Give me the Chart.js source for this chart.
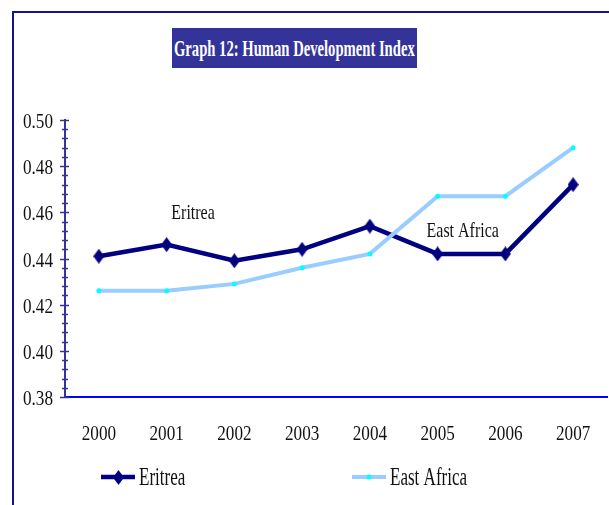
<!DOCTYPE html>
<html>
<head>
<meta charset="utf-8">
<script src="https://cdn.jsdelivr.net/npm/chart.js@4/dist/chart.umd.min.js"></script>
<style>
  html, body { margin: 0; padding: 0; background: #fff; }
  #wrap { position: relative; width: 609px; height: 505px; overflow: hidden; }
  #frame {
    position: absolute; left: 12px; top: 11px; right: -10px; bottom: -10px;
    border-left: 2px solid #14148c; border-top: 2px solid #14148c;
  }
  #title {
    position: absolute; left: 172px; top: 28px; width: 245px; height: 40px;
    background: #333399; display: flex; justify-content: center; align-items: center;
    overflow: visible;
  }
  #title span {
    color: #fff; font: bold 24px "Liberation Serif", serif; white-space: nowrap;
    transform: scaleX(0.61); display: inline-block;
  }
  canvas { position: absolute; left: 0; top: 0; }
</style>
</head>
<body>
<div id="wrap">
  <div id="frame"></div>
  <div id="title"><span>Graph 12: Human Development Index</span></div>
  <canvas id="hdi" width="609" height="505"></canvas>
</div>
<script>
(function () {
  'use strict';

  var years = ['2000', '2001', '2002', '2003', '2004', '2005', '2006', '2007'];
  var eritrea = [0.441, 0.446, 0.439, 0.444, 0.454, 0.442, 0.442, 0.472];
  var eastAfrica = [0.426, 0.426, 0.429, 0.436, 0.442, 0.467, 0.467, 0.488];

  // in-chart labels, anchored in data space (category index, value)
  var noteText = ['Eritrea', 'East Africa'];
  var noteAt = [[1.39, 0.457], [5.37, 0.4495]];

  var SERIF = '"Liberation Serif", "Times New Roman", serif';

  function diamond(w, h, color) {
    var c = document.createElement('canvas');
    c.width = w;
    c.height = h;
    var g = c.getContext('2d');
    g.fillStyle = color;
    g.beginPath();
    g.moveTo(w / 2, 0);
    g.lineTo(w, h / 2);
    g.lineTo(w / 2, h);
    g.lineTo(0, h / 2);
    g.closePath();
    g.fill();
    return c;
  }

  function squeezed(ctx, text, x, y, size, sx, align) {
    ctx.save();
    ctx.translate(x, y);
    ctx.scale(sx, 1);
    ctx.font = size + 'px ' + SERIF;
    ctx.textAlign = align;
    ctx.textBaseline = 'alphabetic';
    ctx.fillText(text, 0, 0);
    ctx.restore();
  }

  var marker = diamond(11, 15, '#000080');

  var axisDecor = {
    id: 'axisDecor',
    afterDraw: function (chart) {
      var ctx = chart.ctx;
      var xs = chart.scales.x;
      var ys = chart.scales.y;
      var axisX = chart.chartArea.left;

      // y ticks crossing the axis, labels every 0.02
      ctx.save();
      ctx.strokeStyle = '#333399';
      ctx.lineWidth = 1.5;
      ctx.fillStyle = '#111';
      ys.ticks.forEach(function (t) {
        var py = Math.round(ys.getPixelForValue(t.value)) + 0.5;
        var major = Math.abs(t.value * 50 - Math.round(t.value * 50)) < 1e-6;
        ctx.beginPath();
        if (major) {
          ctx.moveTo(axisX - 5, py);
          ctx.lineTo(axisX + 4, py);
        } else {
          ctx.moveTo(axisX - 3, py);
          ctx.lineTo(axisX + 3, py);
        }
        ctx.stroke();
        if (major) {
          squeezed(ctx, t.value.toFixed(2), 53, py + 7, 22, 0.78, 'right');
        }
      });

      xs.ticks.forEach(function (t, i) {
        var px = xs.getPixelForTick(i);
        squeezed(ctx, xs.getLabelForValue(t.value), px, 440, 22, 0.78, 'center');
      });

      // notes inside the plot
      noteText.forEach(function (txt, i) {
        var px = xs.getPixelForValue(noteAt[i][0]);
        var py = ys.getPixelForValue(noteAt[i][1]);
        squeezed(ctx, txt, px, py, 21, 0.76, 'center');
      });

      // legend: line with marker, then name
      var slots = [101, 352];
      chart.data.datasets.forEach(function (ds, i) {
        var x0 = slots[i];
        var y0 = 477;
        ctx.strokeStyle = ds.borderColor;
        ctx.lineWidth = ds.borderWidth;
        ctx.beginPath();
        ctx.moveTo(x0, y0);
        ctx.lineTo(x0 + 34, y0);
        ctx.stroke();
        if (ds.pointStyle === marker) {
          ctx.drawImage(marker, x0 + 17 - 5, y0 - 7);
        } else {
          ctx.fillStyle = ds.pointBackgroundColor;
          ctx.beginPath();
          ctx.arc(x0 + 17, y0, ds.pointRadius, 0, Math.PI * 2);
          ctx.fill();
        }
        ctx.fillStyle = '#111';
        squeezed(ctx, ds.label, x0 + 38, 485, 26, 0.655, 'left');
      });
      ctx.restore();
    },
  };

  new Chart(document.getElementById('hdi'), {
    type: 'line',
    data: {
      labels: years,
      datasets: [
        {
          label: 'Eritrea',
          data: eritrea,
          borderColor: '#000080',
          borderWidth: 4.5,
          pointStyle: marker,
          pointRadius: 7,
          tension: 0,
          order: 1,
        },
        {
          label: 'East Africa',
          data: eastAfrica,
          borderColor: '#99ccff',
          borderWidth: 4,
          pointStyle: 'circle',
          pointRadius: 2.5,
          pointBorderWidth: 0,
          pointBackgroundColor: '#00ffff',
          tension: 0,
          order: 0,
        },
      ],
    },
    options: {
      responsive: false,
      animation: false,
      devicePixelRatio: 1,
      layout: { autoPadding: false, padding: { top: 120, right: 2, left: 0, bottom: 0 } },
      plugins: {
        legend: { display: false },
        title: { display: false },
        tooltip: { enabled: false },
      },
      scales: {
        x: {
          offset: true,
          grid: { display: false },
          border: { display: true, color: '#0000ff', width: 2 },
          ticks: { display: false },
          afterFit: function (s) { s.height = 108; },
        },
        y: {
          min: 0.38,
          max: 0.5,
          grid: { display: false },
          border: { display: true, color: '#333399', width: 2 },
          ticks: { display: false, stepSize: 0.004, maxTicksLimit: 100 },
          afterFit: function (s) { s.width = 65; },
        },
      },
    },
    plugins: [axisDecor],
  });
})();
</script>
</body>
</html>
